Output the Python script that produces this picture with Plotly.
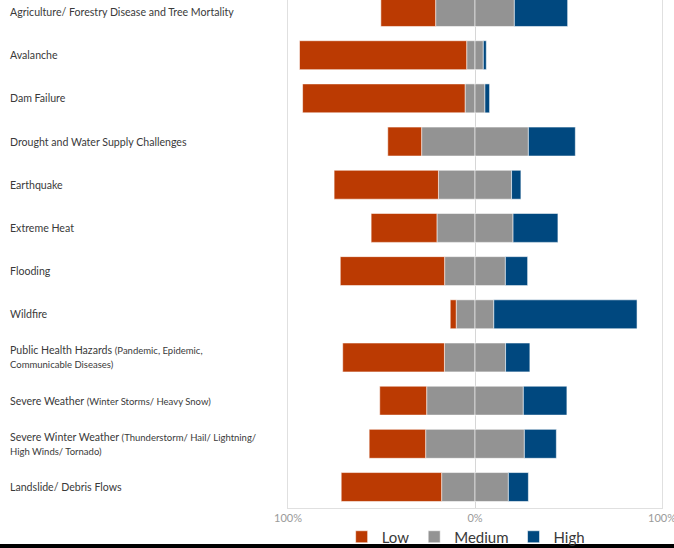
import plotly.graph_objects as go

# ---- data ----
categories = [
    "Agriculture/ Forestry Disease and Tree Mortality",
    "Avalanche",
    "Dam Failure",
    "Drought and Water Supply Challenges",
    "Earthquake",
    "Extreme Heat",
    "Flooding",
    "Wildfire",
    "Public Health Hazards",
    "Severe Weather",
    "Severe Winter Weather",
    "Landslide/ Debris Flows",
]
details = [
    "", "", "", "", "", "", "", "",
    "(Pandemic, Epidemic,<br>Communicable Diseases)",
    "(Winter Storms/ Heavy Snow)",
    "(Thunderstorm/ Hail/ Lightning/<br>High Winds/ Tornado)",
    "",
]
low = [29.3, 89.4, 86.9, 18.1, 55.8, 35.2, 55.8, 3.2, 54.4, 25.1, 30.2, 53.7]
medium = [42.1, 8.9, 10.6, 57.1, 39.1, 40.7, 32.5, 20.1, 32.7, 51.7, 52.8, 35.7]
high = [28.5, 1.6, 2.5, 25.1, 5.0, 24.0, 11.9, 76.6, 13.0, 23.3, 17.1, 10.7]
tick_vals = [-100, 0, 100]
tick_text = ["100%", "0%", "100%"]

C_LOW = "#BB3A02"
C_MED = "#939393"
C_HIGH = "#00487F"
EDGE = dict(color="rgba(255,255,255,0.55)", width=1)

fig = go.Figure()
fig.add_trace(go.Bar(y=categories, x=[-m / 2 for m in medium], orientation="h",
                     name="Medium", marker=dict(color=C_MED, line=EDGE),
                     legendgroup="m", showlegend=False))
fig.add_trace(go.Bar(y=categories, x=[-v for v in low], orientation="h",
                     name="Low", marker=dict(color=C_LOW, line=EDGE),
                     legendrank=1))
fig.add_trace(go.Bar(y=categories, x=[m / 2 for m in medium], orientation="h",
                     name="Medium", marker=dict(color=C_MED, line=EDGE),
                     legendgroup="m", legendrank=2))
fig.add_trace(go.Bar(y=categories, x=high, orientation="h",
                     name="High", marker=dict(color=C_HIGH, line=EDGE),
                     legendrank=3))

# left-aligned category labels
L, R, T, B = 288, 12, 0, 40
W, H = 674, 548
pw = W - L - R
ph = H - T - B
for cat, det in zip(categories, details):
    txt = cat
    if det:
        parts = det.split("<br>")
        txt = cat + " " + "<br>".join(
            f"<span style='font-size:9.5px'>{p}</span>" for p in parts)
    fig.add_annotation(x=(8 - L) / pw, xref="paper", y=cat, yref="y",
                       xanchor="left", yanchor="middle", align="left",
                       text=txt, showarrow=False,
                       font=dict(family="Lato, Open Sans, sans-serif", size=10.6, color="#3a3a3a"))

# bottom border strip of the screenshot
fig.add_shape(type="rect", xref="paper", yref="paper",
              x0=-L / pw - 0.01, x1=(W - L) / pw + 0.01,
              y0=-(H + 2 - ph) / ph, y1=-(544 - ph) / ph,
              fillcolor="#000000", line=dict(width=0), layer="above")

fig.update_layout(
    width=W, height=H,
    margin=dict(l=L, r=R, t=T, b=B, autoexpand=False),
    barmode="relative",
    bargap=0.33,
    plot_bgcolor="white",
    paper_bgcolor="white",
    font=dict(family="Lato, Open Sans, sans-serif", color="#3a3a3a"),
    legend=dict(orientation="h", x=0.475, xanchor="center", y=-29 / ph,
                yanchor="middle", font=dict(size=15, color="#3a3a3a"),
                bgcolor="rgba(0,0,0,0)",
                itemwidth=30, traceorder="normal"),
    xaxis=dict(range=[-100, 100], tickvals=tick_vals, ticktext=tick_text,
               showgrid=False, zeroline=True, zerolinecolor="#d6d6d6",
               zerolinewidth=1, showline=True, linecolor="#e0e0e0",
               linewidth=1, ticks="", fixedrange=True,
               ticklabeloverflow="allow",
               tickfont=dict(size=11, color="#9a9a9a")),
    yaxis=dict(type="category", range=[11.486, -0.278], showticklabels=False,
               showgrid=False, zeroline=False, showline=True, mirror=True,
               linecolor="#e0e0e0", linewidth=1, ticks=""),
    showlegend=True,
)

fig.write_html("out.html",
               config={"displayModeBar": False},
               post_script="document.body.style.margin='0';document.body.style.overflow='hidden';")
